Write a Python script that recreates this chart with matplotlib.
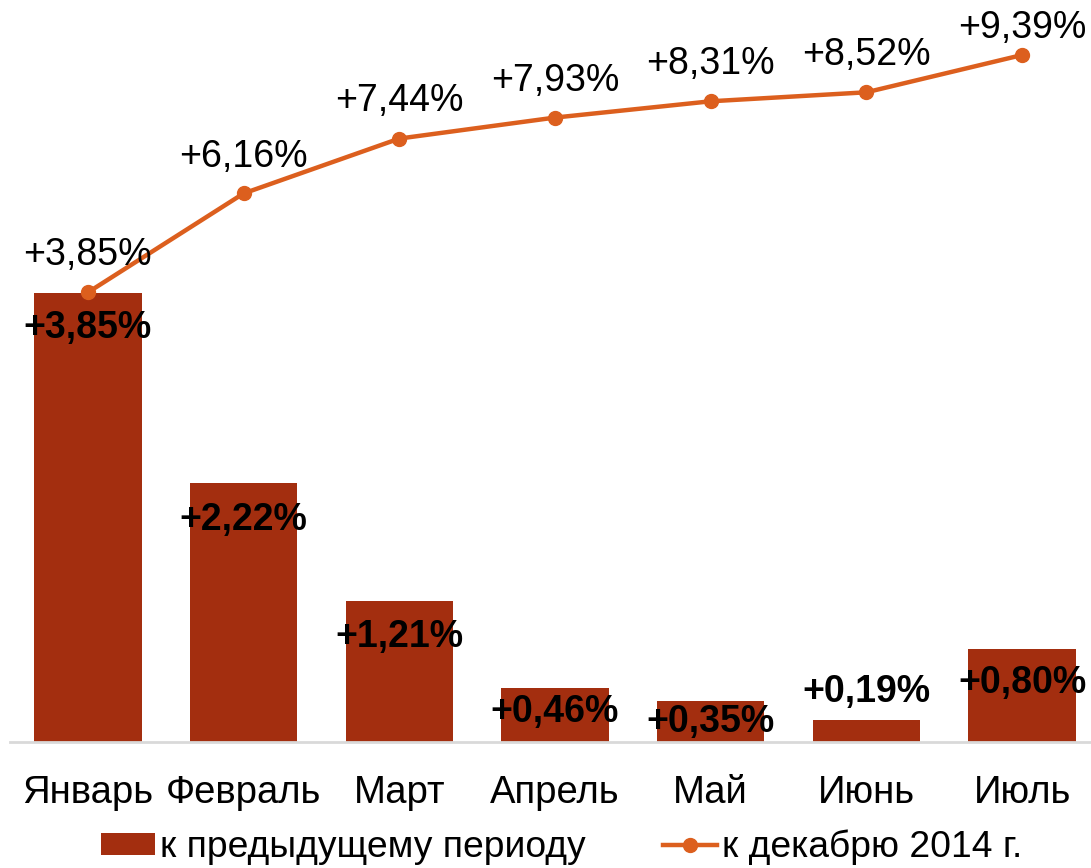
import matplotlib
matplotlib.use('Agg')
import matplotlib.pyplot as plt

months = ['Январь', 'Февраль', 'Март', 'Апрель', 'Май', 'Июнь', 'Июль']
to_prev = [3.85, 2.22, 1.21, 0.46, 0.35, 0.19, 0.80]
to_dec = [3.85, 6.16, 7.44, 7.93, 8.31, 8.52, 9.39]

# label offsets in pixels (relative to bar top / point)
bar_lbl_off = [-35, -37, -36, -24, -21, 28, -34]
line_lbl_off = [37, 36, 38, 37, 37, 37, 27]

BAR_C = '#A32E0F'
LINE_C = '#DC5F1E'
FS = 27.5
FS_LBL = 27
FS_LEG = 26.8

plt.rcParams['font.family'] = ['Liberation Sans', 'DejaVu Sans']

fig = plt.figure(figsize=(10.91, 8.68), dpi=100)
ax = fig.add_axes([10 / 1091, 126 / 868, 1090 / 1091, 732 / 868])
x = list(range(len(months)))

ax.bar(x, to_prev, width=0.69, color=BAR_C, label='к предыдущему периоду', zorder=2)
ax.set_xlim(-0.5, 6.5)
ax.set_ylim(0, 6.278)
for s in ['top', 'right', 'left']:
    ax.spines[s].set_visible(False)
ax.spines['bottom'].set_color('#D9D9D9')
ax.spines['bottom'].set_linewidth(2)
ax.set_yticks([])
ax.set_xticks(x)
ax.set_xticklabels(months, fontsize=FS)
ax.tick_params(axis='x', length=0, pad=24)

for xi, v, off in zip(x, to_prev, bar_lbl_off):
    ax.annotate('+' + f'{v:.2f}'.replace('.', ',') + '%', (xi, v),
                xytext=(0, off), textcoords='offset pixels',
                ha='center', va='center', fontsize=FS_LBL, fontweight='bold',
                color='black', zorder=5)

ax2 = ax.twinx()
ax2.plot(x, to_dec, color=LINE_C, lw=3.2, marker='o', ms=10,
         label='к декабрю 2014 г.', zorder=3)
ax2.set_ylim(-6.64, 10.44)
ax2.set_yticks([])
for s in ax2.spines.values():
    s.set_visible(False)

for xi, v, off in zip(x, to_dec, line_lbl_off):
    ax2.annotate('+' + f'{v:.2f}'.replace('.', ',') + '%', (xi, v),
                 xytext=(0, off), textcoords='offset pixels',
                 ha='center', va='center', fontsize=FS_LBL, color='black')

h1, l1 = ax.get_legend_handles_labels()
h2, l2 = ax2.get_legend_handles_labels()
fig.legend(h1 + h2, l1 + l2, loc='center', bbox_to_anchor=(0.5147, 20.5 / 868),
           ncol=2, frameon=False, fontsize=FS_LEG, handlelength=1.45,
           handleheight=0.5, handletextpad=0.12, columnspacing=2.1)

fig.savefig('out.png', dpi=100)
